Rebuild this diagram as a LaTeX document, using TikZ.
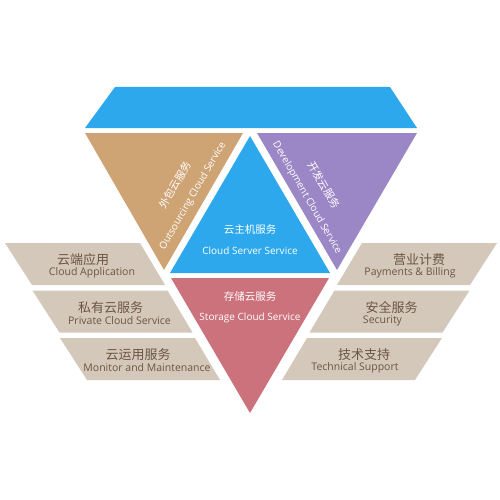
\documentclass[tikz,border=0pt]{standalone}
\usepackage{fontspec}
\setmainfont{Open Sans}
\newfontfamily\zhfont{Noto Sans CJK SC}
\definecolor{skyblue}{HTML}{2EA8EC}
\definecolor{tanbrown}{HTML}{CFA475}
\definecolor{lavender}{HTML}{9B86C6}
\definecolor{rosered}{HTML}{CC727C}
\definecolor{beige}{HTML}{D4C8BB}
\definecolor{rowtext}{HTML}{6B5642}

\begin{document}
\begin{tikzpicture}[x=1pt,y=-1pt,
  tri/.style={text=white,inner sep=0pt,font=\fontsize{10}{12}\selectfont},
  trizh/.style={text=white,inner sep=0pt,font={\zhfont\fontsize{10.5}{12}\selectfont}},
  rowzh/.style={text=rowtext,inner sep=0pt,font={\zhfont\fontsize{13}{15}\selectfont}},
  rowen/.style={text=rowtext,inner sep=0pt,font=\fontsize{10.5}{12}\selectfont}]
 \path[use as bounding box,fill=white] (0,0) rectangle (500,500);
 % diamond
 \fill[skyblue] (115,87)--(390,87)--(417,128)--(85,128)--cycle;
 \fill[tanbrown] (85,133)--(243,133)--(164,270)--cycle;
 \fill[lavender] (257,133)--(417,133)--(337,270)--cycle;
 \fill[skyblue] (250,136)--(330,273)--(170,273)--cycle;
 \fill[rosered] (171,278)--(329,278)--(250,413)--cycle;
 \node[trizh,rotate=60] (zhOut) at (175,185) {外包云服务};
 \node[tri,rotate=60] (enOut) at (193,196) {Outsourcing Cloud Service};
 \node[trizh,rotate=-60] (zhDev) at (324,185) {开发云服务};
 \node[tri,rotate=-60] (enDev) at (307,198) {Development Cloud Service};
 \node[trizh] (zhSrv) at (250,230) {云主机服务};
 \node[tri] (enSrv) at (250,251) {Cloud Server Service};
 \node[trizh] (zhSto) at (250,297) {存储云服务};
 \node[tri] (enSto) at (250,318) {Storage Cloud Service};
 % side bars
 \foreach \i/\zl/\el/\zr/\er in {0/云端应用/Cloud Application/营业计费/Payments \& Billing,
   1/私有云服务/Private Cloud Service/安全服务/Security,
   2/云运用服务/Monitor and Maintenance/技术支持/Technical Support}{
  \pgfmathsetmacro\t{243+47.5*\i}\pgfmathsetmacro\s{27.5*\i}
  \fill[beige] (5+\s,\t)--(140+\s,\t)--(165+\s,\t+42)--(32+\s,\t+42)--cycle;
  \fill[beige] (497-\s,\t)--(362-\s,\t)--(337-\s,\t+42)--(470-\s,\t+42)--cycle;
  \node[rowzh] (zhL\i) at (83+\s,\t+17) {\zl};
  \node[rowen] (enL\i) at (92+\s,\t+30) {\el};
  \node[rowzh] (zhR\i) at (419-\s,\t+17) {\zr};
  \node[rowen] (enR\i) at (410-\s,\t+30) {\er};
 }
\end{tikzpicture}
\end{document}
